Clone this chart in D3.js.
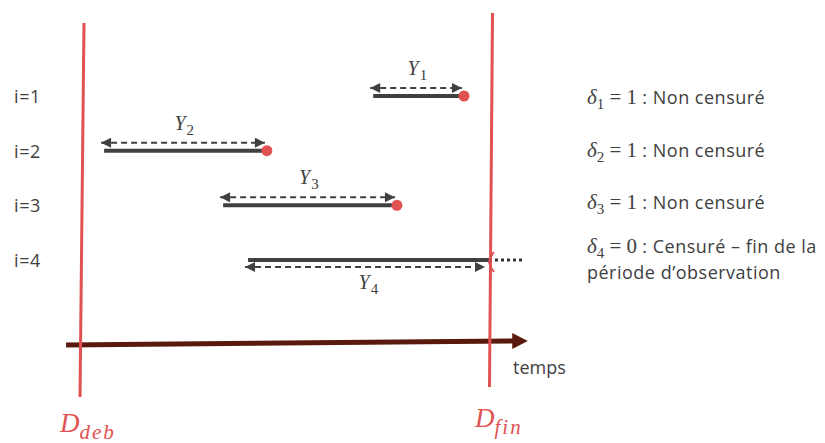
<!DOCTYPE html>
<html>
<head>
<meta charset="utf-8" />
<title></title>
<style>
html, body {
    padding: 0px;
    margin: 0px;
    background: #fff;
}
text { font-family: "Open Sans", "Noto Sans", sans-serif; fill: #404040; }
.math { font-family: "Liberation Serif", "DejaVu Serif", serif; font-style: italic; }
.up { font-family: "Liberation Serif", "DejaVu Serif", serif; font-style: normal; }
</style>
</head>
<body>
<div id="chart"></div>
<script src="https://cdnjs.cloudflare.com/ajax/libs/d3/7.8.5/d3.min.js"></script>
<script>
!(function(){
    "use strict";

    // individuals and their follow-up (time units, 0 = D_deb, 10 = D_fin)
    var ids = [1, 2, 3, 4];
    var starts = [7.12, 0.54, 3.45, 4.06];
    var ends = [9.34, 4.52, 7.70, 10];
    var deltas = [1, 1, 1, 0];
    var statusText = ["Non censuré", "Non censuré", "Non censuré", "Censuré – fin de la"];
    var dEnd = 10, dStart = 0, dotsTo = 10.83;

    var W = 825, H = 443;
    var ink = "#404040", red = "#e05252", brown = "#5a190d";

    var x = d3.scaleLinear().domain([dStart, dEnd]).range([82, 491]);
    var y = d3.scalePoint().domain(ids).range([96, 260]);

    var svg = d3.select("#chart").append("svg")
        .attr("width", W).attr("height", H);

    // time axis arrow
    svg.append("line")
        .attr("x1", x(-0.39)).attr("y1", 345)
        .attr("x2", x(10.6)).attr("y2", 341)
        .attr("stroke", brown).attr("stroke-width", 5);
    svg.append("path")
        .attr("d", "M" + x(10.52) + "," + 333 + "L" + x(10.9) + "," + 341 + "L" + x(10.52) + "," + 349 + "Z")
        .attr("fill", brown);
    svg.append("text").attr("x", 513).attr("y", 374)
        .attr("font-size", 18).text("temps");

    // red bounds
    svg.append("line")
        .attr("x1", x(dStart) + 2).attr("y1", 23)
        .attr("x2", x(dStart) - 2).attr("y2", 397)
        .attr("stroke", red).attr("stroke-width", 3);
    svg.append("line")
        .attr("x1", x(dEnd) + 1.5).attr("y1", 13)
        .attr("x2", x(dEnd) - 1.5).attr("y2", 387)
        .attr("stroke", red).attr("stroke-width", 3);

    function dLabel(px, sub, by) {
        var t = svg.append("text").attr("class", "math").attr("x", px).attr("y", by)
            .style("fill", red).attr("font-size", 27);
        t.append("tspan").text("D");
        t.append("tspan").attr("dy", 7).attr("font-size", 21)
            .attr("letter-spacing", 2).text(sub);
    }
    dLabel(x(dStart) - 22, "deb", 432);
    dLabel(x(dEnd) - 16, "fin", 427);

    // arrowhead marker
    var defs = svg.append("defs");
    defs.append("marker").attr("id", "ah")
        .attr("viewBox", "0 0 10 10").attr("refX", 10).attr("refY", 5)
        .attr("markerWidth", 11).attr("markerHeight", 10)
        .attr("markerUnits", "userSpaceOnUse")
        .attr("orient", "auto-start-reverse")
        .append("path").attr("d", "M0,0L10,5L0,10Z").attr("fill", ink);

    var rows = ids.map(function(id, k){
        return {id: id, s: starts[k], e: ends[k], d: deltas[k], txt: statusText[k]};
    });

    var g = svg.selectAll("g.row").data(rows).enter().append("g").attr("class", "row");

    g.append("text").attr("x", 14).attr("y", function(d){ return y(d.id) + 7; })
        .attr("font-size", 18).attr("letter-spacing", 0.6)
        .text(function(d){ return "i=" + d.id; });

    g.append("line")
        .attr("x1", function(d){ return x(d.s); })
        .attr("x2", function(d){ return x(d.e); })
        .attr("y1", function(d){ return y(d.id); })
        .attr("y2", function(d){ return y(d.id); })
        .attr("stroke", ink).attr("stroke-width", 4);

    // dashed duration arrows: above for events, below for censored
    function ay(d){ return y(d.id) + (d.d ? -8 : 7); }
    g.append("line")
        .attr("x1", function(d){ return x(d.s) - 3; })
        .attr("x2", function(d){ return x(d.e) - (d.d ? 2 : 6); })
        .attr("y1", ay).attr("y2", ay)
        .attr("stroke", ink).attr("stroke-width", 2)
        .attr("stroke-dasharray", "6,4")
        .attr("marker-start", "url(#ah)").attr("marker-end", "url(#ah)");

    g.append("text").attr("class", "math")
        .attr("x", function(d){ return (x(d.s) + x(d.e)) / 2 - 11; })
        .attr("y", function(d){ return d.d ? y(d.id) - 21 : y(d.id) + 29; })
        .attr("font-size", 20)
        .each(function(d){
            var t = d3.select(this);
            t.append("tspan").text("Y");
            t.append("tspan").attr("class", "up").attr("dx", 1).attr("dy", 5)
                .attr("font-size", 15).text(d.id);
        });

    g.filter(function(d){ return d.d === 1; }).append("circle")
        .attr("cx", function(d){ return x(d.e); })
        .attr("cy", function(d){ return y(d.id); })
        .attr("r", 5.5).attr("fill", red);

    var cens = g.filter(function(d){ return d.d === 0; });
    cens.append("line")
        .attr("x1", x(dEnd) + 4).attr("x2", x(dotsTo))
        .attr("y1", function(d){ return y(d.id); })
        .attr("y2", function(d){ return y(d.id); })
        .attr("stroke", "#333").attr("stroke-width", 3)
        .attr("stroke-dasharray", "3,3");
    cens.append("path")
        .attr("d", function(d){
            var cx = x(dEnd), cy = y(d.id) + 2;
            return "M" + (cx + 3) + "," + (cy - 10) + "Q" + (cx - 1) + "," + (cy - 5) + " " + (cx - 2) + "," + cy +
                "Q" + (cx - 1) + "," + (cy + 5) + " " + (cx + 3) + "," + (cy + 10);
        })
        .attr("fill", "none").attr("stroke", red).attr("stroke-width", 2);

    // right-hand legend
    var ty = [104, 157, 209, 253];
    g.append("text").attr("x", 587).attr("y", function(d, k){ return ty[k]; })
        .attr("font-size", 18)
        .each(function(d){
            var t = d3.select(this);
            t.append("tspan").attr("class", "math").attr("font-size", 21).text("δ");
            t.append("tspan").attr("class", "up").attr("font-size", 15).attr("dy", 5).text(d.id);
            t.append("tspan").attr("class", "up").attr("dy", -5).attr("font-size", 21)
                .text(" = " + d.d + " ");
            t.append("tspan").attr("letter-spacing", 0.5).text(": " + d.txt);
        });
    svg.append("text").attr("x", 587).attr("y", 279).attr("font-size", 18)
        .attr("letter-spacing", 0.5)
        .text("période  d’observation");

}());
</script>
</body>
</html>
